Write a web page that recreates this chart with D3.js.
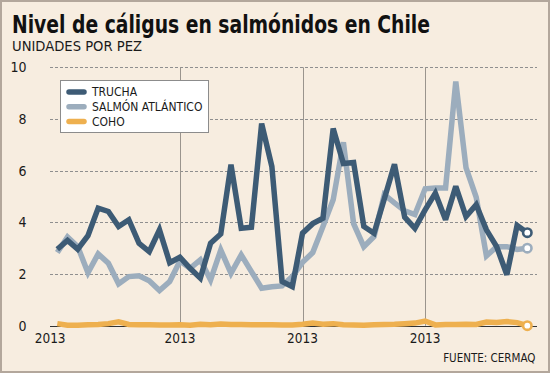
<!DOCTYPE html>
<html>
<head>
<meta charset="utf-8">
<script src="https://cdn.jsdelivr.net/npm/d3@7"></script>
<style>
  body { margin: 0; background: #fff; }
  svg text { font-family: "DejaVu Sans Condensed", "DejaVu Sans", sans-serif; font-stretch: condensed; fill: #1a1a1a; }
</style>
</head>
<body>
<div id="chart"></div>
<script>
// monthly readings, units per fish
var trucha = [2.96, 3.3, 2.96, 3.48, 4.55, 4.42, 3.84, 4.1, 3.19, 2.87, 3.71, 2.44,
  2.65, 2.22, 1.84, 3.19, 3.55, 6.23, 3.77, 3.81, 7.82, 6.16, 1.71, 1.51,
  3.58, 3.95, 4.16, 7.63, 6.28, 6.32, 3.84, 3.58, 4.9, 6.25, 4.2, 3.77,
  4.48, 5.13, 4.1, 5.39, 4.22, 4.68, 3.71, 3.06, 1.97, 3.88, 3.6]
var salmon = [2.83, 3.43, 3.06, 2.05, 2.78, 2.42, 1.62, 1.9, 1.93, 1.74, 1.36, 1.71,
  2.5, 2.22, 2.55, 1.77, 2.93, 2.03, 2.74, 2.09, 1.45, 1.51, 1.54, 1.9,
  2.45, 2.83, 3.84, 4.87, 7.1, 3.95, 3.06, 3.45, 5.07, 4.75, 4.45, 4.3,
  5.3, 5.33, 5.33, 9.45, 6.12, 4.97, 2.7, 3.06, 3.06, 2.95, 3.0]
var coho = [0.08, 0.02, 0.02, 0.04, 0.05, 0.08, 0.15, 0.05, 0.04, 0.04, 0.03, 0.03,
  0.04, 0.02, 0.06, 0.04, 0.07, 0.05, 0.05, 0.04, 0.04, 0.04, 0.03, 0.03,
  0.06, 0.1, 0.06, 0.08, 0.04, 0.03, 0.02, 0.04, 0.05, 0.06, 0.08, 0.1,
  0.18, 0.03, 0.05, 0.05, 0.06, 0.05, 0.14, 0.12, 0.16, 0.12, 0.0]

var seriesNames = ['TRUCHA', 'SALMÓN ATLÁNTICO', 'COHO']
var yTicks = [0, 2, 4, 6, 8, 10]
var xTickIdx = [-0.7, 12, 24, 36]
var xTickLabels = ['2013', '2013', '2013', '2013']

var W = 551, H = 375
var colors = { 'TRUCHA': '#3d5b75', 'SALMÓN ATLÁNTICO': '#9cadbd', 'COHO': '#eeb04f' }

var svg = d3.select('#chart').append('svg')
  .attr('width', W)
  .attr('height', H)

// frame
svg.append('rect')
  .attr('x', 1).attr('y', 1)
  .attr('width', 548).attr('height', 371)
  .style('fill', '#f7ede0')
  .style('stroke', '#b3a79c')
  .style('stroke-width', 2)

svg.append('text')
  .attr('x', 12).attr('y', 33)
  .attr('textLength', 418)
  .attr('lengthAdjust', 'spacingAndGlyphs')
  .style('font-size', '25px')
  .style('font-weight', 'bold')
  .style('fill', '#111')
  .text('Nivel de cáligus en salmónidos en Chile')

svg.append('text')
  .attr('x', 12).attr('y', 50.5)
  .attr('textLength', 130)
  .attr('lengthAdjust', 'spacingAndGlyphs')
  .style('font-size', '14px')
  .text('UNIDADES POR PEZ')

var x = d3.scaleLinear()
  .domain([0, trucha.length - 1])
  .range([57.3, 527.3])
var y = d3.scaleLinear()
  .domain([0, 10])
  .range([325.7, 67.3])

var left = 50, right = 537

// horizontal dashed grid
svg.selectAll('.hgrid')
  .data(yTicks.filter(d => d > 0))
  .enter().append('line')
  .attr('class', 'hgrid')
  .attr('x1', left).attr('x2', right)
  .attr('y1', d => Math.round(y(d)) + 0.5)
  .attr('y2', d => Math.round(y(d)) + 0.5)
  .style('stroke', '#8f8f8f')
  .style('stroke-dasharray', '3,2')
  .style('stroke-width', 1)

// vertical year lines
svg.selectAll('.vgrid')
  .data(xTickIdx.filter(d => d > 0))
  .enter().append('line')
  .attr('class', 'vgrid')
  .attr('x1', d => Math.round(x(d)) + 0.5)
  .attr('x2', d => Math.round(x(d)) + 0.5)
  .attr('y1', y(10)).attr('y2', y(0))
  .style('stroke', '#9a948d')
  .style('stroke-width', 1)

// baseline
svg.append('line')
  .attr('x1', left).attr('x2', right)
  .attr('y1', Math.round(y(0)) + 0.5).attr('y2', Math.round(y(0)) + 0.5)
  .style('stroke', '#333')
  .style('stroke-width', 1)

svg.selectAll('.ylab')
  .data(yTicks)
  .enter().append('text')
  .attr('class', 'ylab')
  .attr('x', 26.5)
  .attr('y', d => y(d))
  .attr('dy', '0.36em')
  .attr('text-anchor', 'end')
  .style('font-size', '14px')
  .text(d => d)

svg.selectAll('.xlab')
  .data(xTickIdx)
  .enter().append('text')
  .attr('class', 'xlab')
  .attr('x', d => x(d))
  .attr('y', 343)
  .attr('text-anchor', 'middle')
  .style('font-size', '13.5px')
  .text((d, i) => xTickLabels[i])

svg.append('text')
  .attr('x', 535.5).attr('y', 362)
  .attr('text-anchor', 'end')
  .style('font-size', '11.5px')
  .text('FUENTE: CERMAQ')

var line = d3.line()
  .x((d, i) => x(i))
  .y(d => y(d))

var series = [
  { name: 'COHO', values: coho },
  { name: 'SALMÓN ATLÁNTICO', values: salmon },
  { name: 'TRUCHA', values: trucha }
]

series.forEach(s => {
  svg.append('path')
    .datum(s.values)
    .attr('d', line)
    .style('fill', 'none')
    .style('stroke', colors[s.name])
    .style('stroke-width', 5.5)
    .style('stroke-linejoin', 'miter')
    .style('stroke-miterlimit', 3)
})

series.forEach(s => {
  var last = s.values.length - 1
  svg.append('circle')
    .attr('cx', x(last))
    .attr('cy', y(s.values[last]))
    .attr('r', 4.2)
    .style('fill', '#fff')
    .style('stroke', colors[s.name])
    .style('stroke-width', 2.6)
})

// legend
var lg = svg.append('g')
lg.append('rect')
  .attr('x', 60.5).attr('y', 80.5)
  .attr('width', 148).attr('height', 52)
  .style('fill', '#fff')
  .style('stroke', '#8c8c8c')
  .style('stroke-width', 1)

seriesNames.forEach((name, i) => {
  var ly = 92 + i * 14.8
  lg.append('line')
    .attr('x1', 69).attr('x2', 84)
    .attr('y1', ly).attr('y2', ly)
    .style('stroke', colors[name])
    .style('stroke-width', 5.5)
    .style('stroke-linecap', 'round')
  lg.append('text')
    .attr('x', 92).attr('y', ly)
    .attr('dy', '0.36em')
    .style('font-size', '12px')
    .text(name)
})
</script>
</body>
</html>
